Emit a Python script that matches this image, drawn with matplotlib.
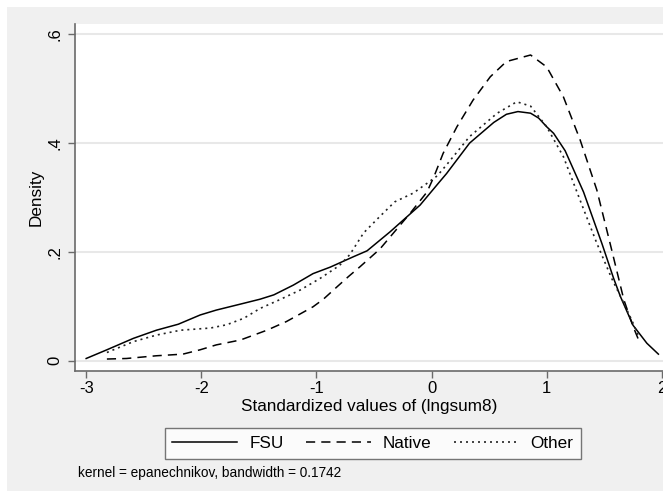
import matplotlib
matplotlib.use("Agg")
import matplotlib.pyplot as plt
from matplotlib.patches import Rectangle
from matplotlib.ticker import FixedLocator, FuncFormatter

plt.rcParams['font.family'] = ['Liberation Sans', 'DejaVu Sans']
plt.rcParams['axes.unicode_minus'] = False

# kernel density estimates, read off per group
fsu_x = [-3.0, -2.82, -2.59, -2.39, -2.20, -2.01, -1.87, -1.66, -1.49, -1.37,
         -1.20, -1.03, -0.88, -0.68, -0.56, -0.36, -0.10, 0.07, 0.13, 0.33,
         0.54, 0.65, 0.75, 0.86, 0.93, 1.0, 1.06, 1.16, 1.32, 1.48, 1.58,
         1.64, 1.75, 1.87, 1.97]
fsu_y = [0.004, 0.020, 0.041, 0.056, 0.067, 0.084, 0.093, 0.104, 0.113, 0.121,
         0.139, 0.160, 0.172, 0.191, 0.202, 0.237, 0.286, 0.329, 0.344, 0.400,
         0.438, 0.453, 0.458, 0.455, 0.446, 0.430, 0.418, 0.386, 0.310, 0.215,
         0.152, 0.118, 0.065, 0.032, 0.012]

native_x = [-2.82, -2.65, -2.39, -2.16, -2.01, -1.87, -1.66, -1.43, -1.26,
            -1.03, -0.94, -0.82, -0.72, -0.62, -0.45, -0.19, -0.04, 0.02, 0.10,
            0.22, 0.36, 0.51, 0.65, 0.86, 1.0, 1.145, 1.29, 1.435, 1.55, 1.67,
            1.75, 1.81]
native_y = [0.003, 0.004, 0.009, 0.012, 0.020, 0.029, 0.038, 0.056, 0.072,
            0.099, 0.113, 0.136, 0.155, 0.173, 0.205, 0.270, 0.310, 0.338,
            0.381, 0.430, 0.479, 0.522, 0.550, 0.562, 0.540, 0.485, 0.406,
            0.314, 0.216, 0.112, 0.063, 0.032]

other_x = [-2.82, -2.59, -2.39, -2.18, -1.92, -1.78, -1.63, -1.49, -1.32,
           -1.14, -0.97, -0.80, -0.71, -0.59, -0.45, -0.32, -0.16, -0.04, 0.05,
           0.13, 0.33, 0.57, 0.74, 0.86, 1.0, 1.145, 1.29, 1.435, 1.565, 1.66,
           1.75, 1.80]
other_y = [0.015, 0.035, 0.047, 0.056, 0.060, 0.066, 0.078, 0.096, 0.112,
           0.130, 0.151, 0.175, 0.195, 0.235, 0.265, 0.292, 0.308, 0.326, 0.340,
           0.360, 0.412, 0.455, 0.476, 0.468, 0.430, 0.375, 0.295, 0.216, 0.151,
           0.110, 0.069, 0.044]

x_ticks = [-3, -2, -1, 0, 1, 2]
y_ticks = [0, 0.2, 0.4, 0.6]

fig = plt.figure(figsize=(6.63, 4.96), dpi=100)
fig.patch.set_facecolor('white')
fig.add_artist(Rectangle((7 / 663, 5 / 496), 656 / 663, 484 / 496,
                         transform=fig.transFigure, facecolor='#f0f0f0',
                         edgecolor='none', zorder=0))

ax = fig.add_axes([75 / 663, 125 / 496, 588 / 663, 347 / 496])
ax.set_facecolor('white')

ax.plot(fsu_x, fsu_y, color='black', lw=1.1, linestyle='-', label='FSU')
ax.plot(native_x, native_y, color='black', lw=1.1, linestyle=(0, (6, 4)),
        label='Native')
ax.plot(other_x, other_y, color='#222222', lw=1.2, linestyle=(0, (1.2, 2.4)),
        label='Other')

ax.set_xlim(-3.097, 2.01)
ax.set_ylim(-0.019, 0.619)

ax.yaxis.set_major_locator(FixedLocator(y_ticks))
ax.xaxis.set_major_locator(FixedLocator(x_ticks))
ax.yaxis.set_major_formatter(FuncFormatter(
    lambda v, p: '0' if v == 0 else ('%.1f' % v).lstrip('0')))
ax.grid(axis='y', color='#e8e8e8', lw=1.5)
ax.set_axisbelow(True)

for s in ['top', 'right']:
    ax.spines[s].set_visible(False)
for s in ['left', 'bottom']:
    ax.spines[s].set_color('#6a6a6a')
    ax.spines[s].set_linewidth(1.2)

ax.tick_params(axis='both', direction='out', length=5, width=1,
               color='#6a6a6a', labelsize=12, labelcolor='black')
ax.tick_params(axis='x', pad=2)
ax.tick_params(axis='y', pad=4)
for lbl in ax.get_yticklabels():
    lbl.set_rotation(90)
    lbl.set_va('center')

ax.set_xlabel('Standardized values of (lngsum8)', fontsize=12.3, labelpad=2)
ax.set_ylabel('Density', fontsize=12.3, labelpad=3)

leg = fig.legend(loc='center', bbox_to_anchor=(373 / 663, 52.5 / 496), ncol=3,
                 frameon=True, fancybox=False, fontsize=12.3, handlelength=3.8,
                 handletextpad=0.7, columnspacing=1.3, borderpad=0.45)
leg.get_frame().set_edgecolor('#555555')
leg.get_frame().set_linewidth(1.0)
leg.get_frame().set_facecolor('white')

fig.text(78 / 663, 23 / 496, 'kernel = epanechnikov, bandwidth = 0.1742',
         fontsize=9.8, va='center', ha='left')

fig.savefig('out.png', dpi=100)
